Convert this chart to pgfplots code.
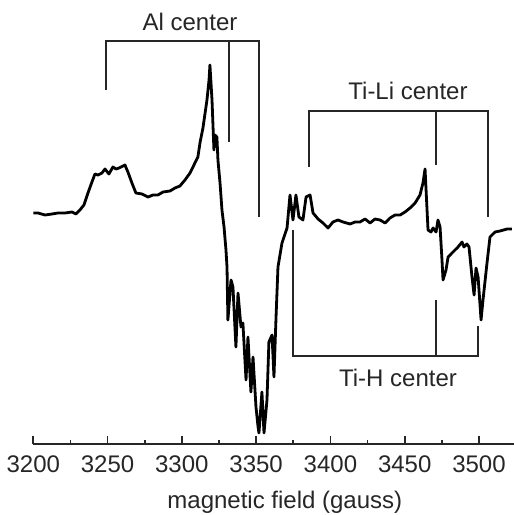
\documentclass[border=0pt]{standalone}
\usepackage{fontspec}
\setmainfont{Liberation Sans}
\usepackage{pgfplots}
\pgfplotsset{compat=1.18}

\begin{document}
\fontsize{12}{14}\selectfont
\begin{tikzpicture}
  \begin{axis}[
    x=0.74285pt, y=0.5pt,
    xmin=3200, xmax=3523.5,
    ymin=-231, ymax=213,
    axis x line=bottom,
    axis line style={-, line width=0.8pt, black!85},
    hide y axis,
    clip=false,
    tick align=inside,
    xtick={3200,3250,...,3500},
    minor x tick num=1,
    major tick length=4pt,
    minor tick length=2pt,
    tick style={line width=0.8pt, black!85},
    xticklabel style={yshift=-1.5pt, text=black!85},
    /pgf/number format/assume math mode=true,
    /pgf/number format/1000 sep={},
  ]
    % spectrum
    \addplot[black, line width=1.4pt, line join=round] coordinates {
      (3200,0) (3203.2,0) (3207.9,-2) (3212.6,-1) (3216.6,0) (3221.3,0)
      (3226.0,1) (3228.7,-1) (3231.4,3) (3234.1,8) (3236.8,20) (3239.5,31)
      (3241.5,39) (3243.5,38) (3246.2,40) (3248.3,44) (3250.9,39) (3253.6,46)
      (3255.7,44) (3257.7,45) (3261.7,48) (3263.7,41) (3266.4,30) (3269.1,20)
      (3273.2,19) (3277.2,16) (3280.6,18) (3283.9,18) (3287.3,21) (3292.0,22)
      (3295.4,25) (3298.7,27) (3302.1,33) (3305.5,40) (3308.8,50) (3310.8,56)
      (3312.2,70) (3314.2,85) (3316.9,113) (3318.3,133) (3318.9,148) (3320.3,113)
      (3321.6,63) (3322.3,78) (3323.6,76) (3324.3,53) (3325.7,30) (3327.0,3)
      (3328.4,-14) (3329.7,-37) (3330.4,-54) (3331.0,-107) (3333.1,-67) (3334.4,-74)
      (3336.4,-134) (3337.8,-80) (3339.8,-114) (3341.1,-110) (3343.2,-167) (3344.5,-124)
      (3346.5,-179) (3347.9,-144) (3349.9,-194) (3351.3,-214) (3351.9,-220) (3353.9,-179)
      (3355.3,-220) (3357.3,-187) (3358.6,-129) (3360.7,-122) (3362.0,-164) (3363.4,-104)
      (3364.7,-54) (3367.4,-30) (3370.8,-15) (3372.8,18) (3374.8,-7) (3376.8,18)
      (3378.8,-4) (3381.5,-7) (3383.6,16) (3386.3,18) (3388.3,0) (3391.7,-6)
      (3395.0,-10) (3398.4,-15) (3401.7,-9) (3405.1,-7) (3408.5,-9) (3413.2,-11)
      (3416.6,-9) (3419.9,-9) (3423.3,-6) (3426.7,-10) (3430.0,-6) (3433.4,-7)
      (3436.8,-10) (3440.1,-5) (3443.5,-2) (3446.9,-2) (3450.2,1) (3453.6,5)
      (3457.0,10) (3460.3,18) (3462.3,30) (3463.7,44) (3465.7,-17) (3467.7,-19)
      (3469.1,-15) (3471.1,-19) (3472.4,-7) (3473.8,-14) (3475.1,-47) (3475.8,-67)
      (3477.8,-57) (3479.2,-44) (3482.5,-39) (3485.9,-34) (3488.6,-29) (3489.9,-34)
      (3491.9,-31) (3493.3,-34) (3495.3,-64) (3496.7,-82) (3498.0,-55) (3499.4,-64)
      (3501.4,-107) (3502.7,-87) (3505.4,-50) (3507.4,-24) (3510.8,-19) (3514.2,-18)
      (3518.9,-16) (3522.2,-16)
    };

    % Al center bracket
    \addplot[black!85, line width=0.9pt] coordinates {
      (3249.0,123) (3249.0,172) (3351.9,172) (3351.9,-4)};
    \addplot[black!85, line width=0.9pt] coordinates {
      (3331.7,172) (3331.7,71)};
    % Ti-Li center bracket
    \addplot[black!85, line width=0.9pt] coordinates {
      (3385.6,46) (3385.6,102) (3506.1,102) (3506.1,-4)};
    \addplot[black!85, line width=0.9pt] coordinates {
      (3471.1,102) (3471.1,48)};
    % Ti-H center bracket
    \addplot[black!85, line width=0.9pt] coordinates {
      (3374.8,-17) (3374.8,-143) (3499.4,-143) (3499.4,-113)};
    \addplot[black!85, line width=0.9pt] coordinates {
      (3471.1,-143) (3471.1,-87)};

    \node[text=black!85] at (axis cs:3305.5,191) {Al center};
    \node[text=black!85] at (axis cs:3452.2,122) {Ti-Li center};
    \node[text=black!85] at (axis cs:3445.5,-165) {Ti-H center};
    \node[text=black!85, yshift=-29pt] at (axis cs:3369.3,-231) {magnetic field (gauss)};

    \coordinate (bbtl) at (axis cs:3177.6,213);
    \coordinate (bbbr) at (axis cs:3523.5,-302);
  \end{axis}
  \pgfresetboundingbox
  \useasboundingbox (bbtl) rectangle (bbbr);
\end{tikzpicture}
\end{document}
